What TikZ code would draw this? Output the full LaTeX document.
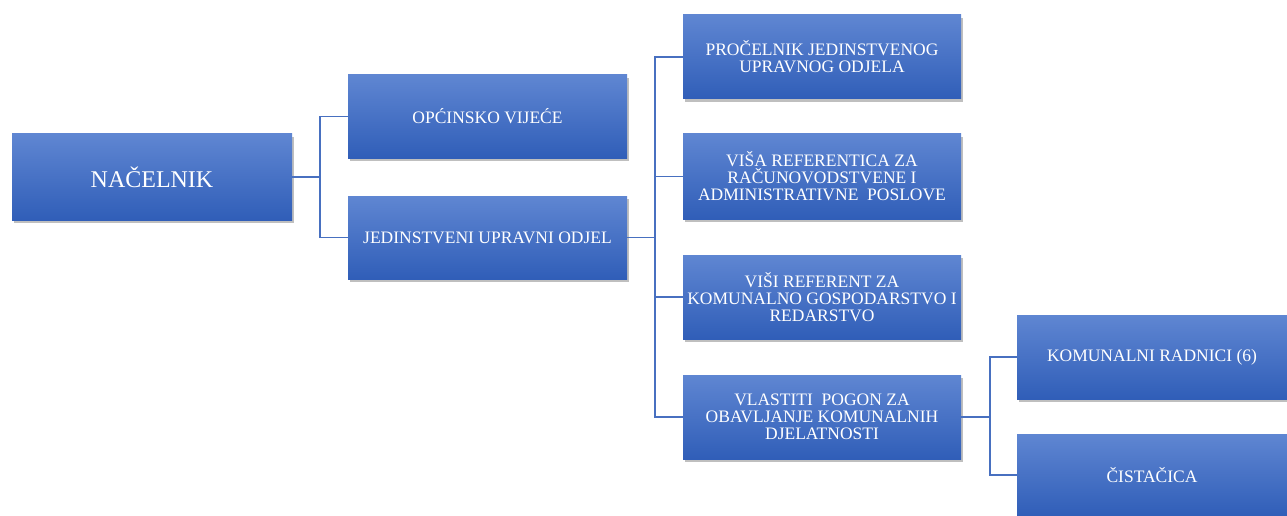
\documentclass[tikz,border=0pt]{standalone}
\usepackage{fontspec}
\setmainfont{Liberation Serif}
\usetikzlibrary{shadows}
\definecolor{boxtop}{RGB}{95,134,210}
\definecolor{boxbot}{RGB}{48,94,184}
\definecolor{linec}{RGB}{72,112,192}
\begin{document}
\begin{tikzpicture}[x=1pt,y=-1pt,
  orgbox/.style={rectangle, draw=none, top color=boxtop, bottom color=boxbot,
    text=white, align=center, inner sep=0pt,
    font=\fontsize{17.5}{17}\selectfont,
    drop shadow={shadow xshift=2pt, shadow yshift=-3pt, opacity=0.5}},
  wbox/.style={orgbox, minimum width=279pt, minimum height=84pt},
  conn/.style={draw=linec, line width=1.4pt}]
\useasboundingbox (0,0) rectangle (1287,516);
\fill[white] (0,0) rectangle (1287,516);

\node[orgbox, minimum width=280pt, minimum height=86pt, font=\fontsize{24}{26}\selectfont] (n) at (152,177) {NAČELNIK};
\node[wbox, minimum height=83pt] (ov) at (487.5,116.5) {OPĆINSKO VIJEĆE};
\node[wbox, minimum height=83pt] (juo) at (487.5,237.5) {JEDINSTVENI UPRAVNI ODJEL};

\node[wbox, minimum width=278pt] (p1) at (822,57) {PROČELNIK JEDINSTVENOG\\UPRAVNOG ODJELA};
\node[wbox, minimum width=278pt, minimum height=85pt] (p2) at (822,176.5) {VIŠA REFERENTICA ZA\\RAČUNOVODSTVENE I\\ADMINISTRATIVNE\ \ POSLOVE};
\node[wbox, minimum width=278pt] (p3) at (822,297) {VIŠI REFERENT ZA\\KOMUNALNO GOSPODARSTVO I\\REDARSTVO};
\node[wbox, minimum width=278pt] (p4) at (822,417) {VLASTITI\ \ POGON ZA\\OBAVLJANJE KOMUNALNIH\\DJELATNOSTI};

\node[wbox, minimum width=270pt] (k1) at (1152,357) {KOMUNALNI RADNICI (6)};
\node[wbox, minimum width=270pt, minimum height=82pt] (k2) at (1152,475) {ČISTAČICA};

\coordinate (t1) at (320,177);
\coordinate (t2) at (655,237.5);
\coordinate (t3) at (990,417);

\draw[conn] (n.east) -- (t1);
\draw[conn] (t1) |- (ov.west);
\draw[conn] (t1) |- (juo.west);

\draw[conn] (juo.east) -- (t2);
\draw[conn] (t2) |- (p1.west);
\draw[conn] (t2) |- (p2.west);
\draw[conn] (t2) |- (p3.west);
\draw[conn] (t2) |- (p4.west);

\draw[conn] (p4.east) -- (t3);
\draw[conn] (t3) |- (k1.west);
\draw[conn] (t3) |- (k2.west);
\end{tikzpicture}
\end{document}
